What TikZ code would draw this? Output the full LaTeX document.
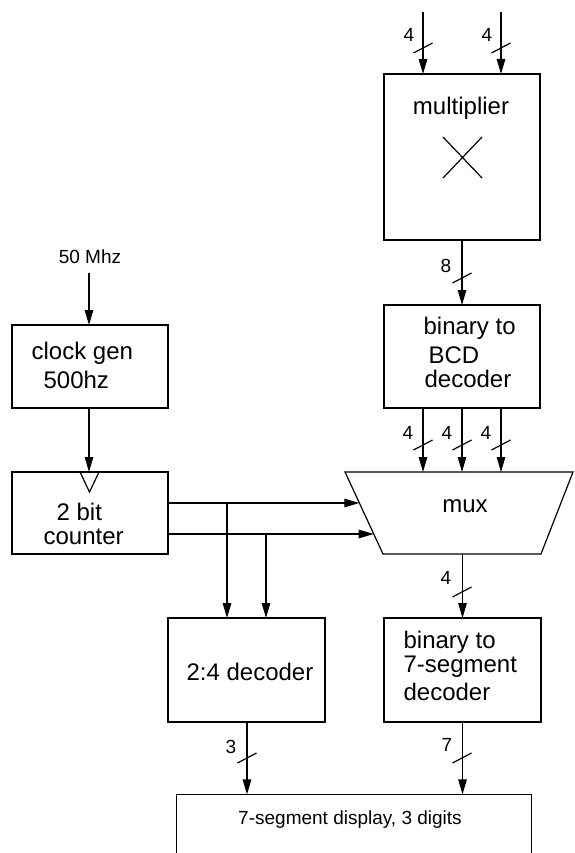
\documentclass[tikz,border=0pt]{standalone}
\usepackage{fontspec}
\setmainfont{Liberation Sans}
\usetikzlibrary{arrows.meta,calc}
\begin{document}
\begin{tikzpicture}[x=1pt,y=-1pt,
  every path/.style={line width=1.2pt},
  box/.style={draw, line width=1.2pt, inner sep=0pt, outer sep=0pt},
  big/.style={font=\fontsize{24}{26}\selectfont, inner sep=0pt, anchor=west},
  lbl/.style={font=\fontsize{19}{21}\selectfont, inner sep=0pt},
  arr/.style={-{Triangle[length=15pt,width=8.5pt]}, line width=1.2pt},
  slash/.style={line width=1.2pt}
]
\useasboundingbox (0,0) rectangle (574,853);

% boxes
\node[box, minimum width=156pt, minimum height=166pt] (mult) at (462,157) {};
\node[box, minimum width=156pt, minimum height=103pt] (bcd) at (462,356.5) {};
\node[box, minimum width=156pt, minimum height=83pt] (clk) at (90,366.5) {};
\node[box, minimum width=156pt, minimum height=82pt] (cnt) at (90,513) {};
\node[box, minimum width=157pt, minimum height=104pt] (dec) at (246.5,670) {};
\node[box, minimum width=157pt, minimum height=104pt] (seg) at (462.5,670) {};
\node[inner sep=0pt, minimum width=354pt, minimum height=60pt] (disp) at (354,825) {};
\draw (disp.south west) |- (disp.north east) -- (disp.south east);

% mux
\coordinate (muxTL) at (345,472);
\coordinate (muxTR) at (573,472);
\coordinate (muxBR) at (541,554);
\coordinate (muxBL) at (383,554);
\draw (muxTL) -- (muxTR) -- (muxBR) -- (muxBL) -- cycle;
\node[font=\fontsize{24}{26}\selectfont, inner sep=0pt] (muxt) at (465,506) {mux};

% texts
\node[font=\fontsize{24}{26}\selectfont, inner sep=0pt] (multt) at (461,108) {multiplier};
\draw (443,137) -- (482,178) (443,178) -- (482,137);
\node[big] (bcd1) at (423,328) {binary to};
\node[big] (bcd2) at (428,355) {BCD};
\node[big] (bcd3) at (424,379) {decoder};
\node[big] (clk1) at (31,353) {clock gen};
\node[big] (clk2) at (43,380) {500hz};
\node[big] (cnt1) at (56,512) {2 bit};
\node[big] (cnt2) at (43,537) {counter};
\node[big] (dec1) at (186,672) {2:4 decoder};
\node[big] (seg1) at (403,642) {binary to};
\node[big] (seg2) at (403,667) {7-segment};
\node[big] (seg3) at (403,692) {decoder};
\node[font=\fontsize{19}{21}\selectfont, inner sep=0pt] (dispt) at (350,820) {7-segment display, 3 digits};
\node[font=\fontsize{19}{21}\selectfont, inner sep=0pt] (mhz) at (90,257) {50 Mhz};

% clock triangle
\draw (80,472) -- (89.5,492) -- (99,472);

% multiplier inputs
\coordinate (in1) at (423,12);
\coordinate (in2) at (501,12);
\draw[arr] (in1) -- (in1 |- mult.north);
\draw[arr] (in2) -- (in2 |- mult.north);
\draw[slash] (413.5,53) -- (432.5,43);
\draw[slash] (491.5,53) -- (510.5,43);
\node[lbl] (l1) at (409,35) {4};
\node[lbl] (l2) at (487,35) {4};

% multiplier -> bcd
\draw[arr] (mult.south) -- (bcd.north);
\draw[slash] (452.5,283) -- (471.5,273);
\node[lbl] (l3) at (446,266) {8};

% bcd -> mux
\coordinate (b1) at (423,472);
\coordinate (b2) at (462,472);
\coordinate (b3) at (501,472);
\draw[arr] (b1 |- bcd.south) -- (b1);
\draw[arr] (b2 |- bcd.south) -- (b2);
\draw[arr] (b3 |- bcd.south) -- (b3);
\foreach \x in {423,462,501}{
  \draw[slash] (\x-9.5,450) -- (\x+9.5,440);
}
\node[lbl] (l4) at (408,433) {4};
\node[lbl] (l5) at (447,433) {4};
\node[lbl] (l6) at (486,433) {4};

% clock chain
\coordinate (ck) at (89,273);
\draw[arr] (ck) -- (ck |- clk.north);
\draw[arr] (ck |- clk.south) -- (ck |- cnt.north);

% counter -> mux
\coordinate (m1) at ($(muxTL)!0.378!(muxBL)$);
\coordinate (m2) at ($(muxTL)!0.756!(muxBL)$);
\draw[arr] (cnt.east |- m1) -- (m1);
\draw[arr] (cnt.east |- m2) -- (m2);
\coordinate (j1) at (227,503);
\coordinate (j2) at (266,534);
\draw[arr] (j1) -- (j1 |- dec.north);
\draw[arr] (j2) -- (j2 |- dec.north);

% mux -> seg
\draw[arr] (seg.north |- muxBL) -- (seg.north);
\draw[slash] (452.5,597) -- (471.5,587);
\node[lbl] (l7) at (446,578) {4};

% dec -> display
\coordinate (d1) at (247,722);
\draw[arr] (d1) -- (d1 |- disp.north);
\draw[slash] (237.5,763) -- (256.5,753);
\node[lbl] (l8) at (231,747) {3};

% seg -> display
\draw[arr] (seg.south) -- (seg.south |- disp.north);
\draw[slash] (452.5,763) -- (471.5,753);
\node[lbl] (l9) at (447,745) {7};
\end{tikzpicture}
\end{document}
